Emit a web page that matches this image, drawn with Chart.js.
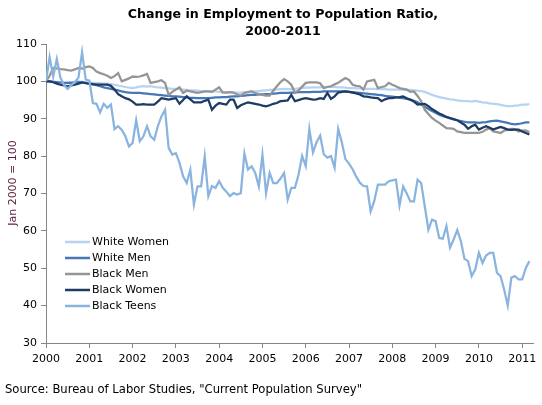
<!DOCTYPE html>
<html>
<head>
<meta charset="utf-8">
<title>Change in Employment to Population Ratio, 2000-2011</title>
<script src="https://cdn.jsdelivr.net/npm/chart.js@4"></script>
<style>
  html, body { margin: 0; padding: 0; background: #fff; }
  #wrap { width: 542px; height: 405px; }
</style>
</head>
<body>
<div id="wrap"><canvas id="grafico" width="542" height="405"></canvas></div>
<script>
// Séries mensais, Jan 2000 = 100 (de jan/2000 até mar/2011)
const startYear = 2000;

const whiteWomen = [
  100, 100, 99.9, 99.8, 99.7, 99.6, 99.7, 99.8, 99.9, 100, 99.9, 99.8,
  99.7, 99.6, 99.5, 99.5, 99.4, 99.4, 99.3, 99.1, 98.9, 98.7, 98.5, 98.3,
  98.2, 98.4, 98.6, 98.7, 98.6, 98.7, 98.5, 98.4, 98.3, 98.2, 98.1, 98,
  98, 97.9, 97.8, 97.7, 97.6, 97.6, 97.5, 97.4, 97.3, 97.3, 97.4, 97.3,
  97.2, 97.2, 97.1, 97.1, 97, 97, 97, 97.1, 97.2, 97.3, 97.3, 97.4,
  97.5, 97.6, 97.7, 97.8, 97.8, 97.9, 98, 97.9, 97.9, 98, 98.1, 98.2,
  98.3, 98.3, 98.4, 98.4, 98.4, 98.5, 98.5, 98.6, 98.5, 98.4, 98.4, 98.3,
  98.2, 98.2, 98.1, 98.1, 98, 98, 98, 98, 97.9, 97.9, 97.9, 97.8,
  97.8, 97.8, 97.8, 97.8, 97.7, 97.7, 97.6, 97.5, 97.4, 97.2, 96.8, 96.4,
  96.1, 95.8, 95.6, 95.4, 95.2, 95.1, 94.9, 94.8, 94.7, 94.7, 94.6, 94.8,
  94.6, 94.4, 94.3, 94.1, 94, 93.9, 93.7, 93.5, 93.4, 93.4, 93.5, 93.6, 93.8, 93.8, 93.9
];

const whiteMen = [
  100, 100, 99.9, 99.8, 99.7, 99.6, 99.6, 99.6, 99.7, 99.8, 99.7, 99.6,
  99.5, 99.3, 99, 98.7, 98.4, 98.2, 98, 97.8, 97.6, 97.3, 97.1, 97,
  96.9, 96.9, 96.9, 96.8, 96.7, 96.6, 96.5, 96.4, 96.3, 96.2, 96.1, 96,
  96, 95.9, 95.8, 95.7, 95.6, 95.6, 95.5, 95.5, 95.5, 95.5, 95.6, 95.7,
  95.7, 95.8, 95.8, 95.9, 96, 96, 96.1, 96.2, 96.3, 96.4, 96.4, 96.5,
  96.5, 96.6, 96.6, 96.7, 96.8, 96.9, 96.9, 96.9, 97, 97, 97.1, 97.1,
  97.1, 97.1, 97.2, 97.2, 97.2, 97.3, 97.3, 97.3, 97.3, 97.3, 97.3, 97.3,
  97.2, 97.1, 97, 96.9, 96.8, 96.7, 96.6, 96.5, 96.4, 96.3, 96.1, 96,
  95.9, 95.8, 95.6, 95.5, 95.3, 95.1, 94.8, 94.4, 93.8, 93.2, 92.6, 92.1,
  91.6, 91.1, 90.7, 90.4, 90.1, 89.8, 89.6, 89.4, 89.2, 89, 89, 89,
  88.9, 89, 89.1, 89.3, 89.4, 89.5, 89.3, 89.1, 88.9, 88.6, 88.5, 88.6, 88.8, 89, 89
];

const blackMen = [
  100, 101.5, 103.6, 103.5, 103.3, 103.2, 103, 102.9, 103.2, 103.6, 103.4, 103.8,
  104, 103.6, 102.6, 102.2, 101.9, 101.5, 100.9, 101.4, 102.2, 100, 100.4, 100.8,
  101.3, 101.2, 101.3, 101.6, 102, 99.6, 99.8, 100, 100.3, 99.6, 96.4, 97.2,
  97.8, 98.4, 96.9, 97.5, 97.3, 97.1, 96.9, 97.1, 97.3, 97.3, 97.2, 97.8,
  98.4, 97, 97, 97.1, 97, 96.5, 96.2, 96.9, 97.1, 97.3, 96.9, 96.6,
  96.4, 96.2, 96.2, 97.5, 98.7, 99.8, 100.6, 100, 99.1, 97, 97.6, 98.6,
  99.6, 99.7, 99.7, 99.7, 99.5, 98.2, 98.5, 98.7, 99.2, 99.6, 100.3, 100.9,
  100.4, 99.1, 98.8, 98.7, 97.8, 100, 100.2, 100.4, 98.2, 98.5, 98.7, 99.6,
  99.1, 98.7, 98.2, 98, 97.8, 97.2, 97.3, 96.1, 94.7, 92.4, 91.3, 90.2,
  89.5, 88.9, 88.2, 87.5, 87.4, 87.3, 86.6, 86.4, 86.2, 86.2, 86.2, 86.2,
  86.2, 86.5, 87.1, 87.5, 86.6, 86.4, 86.2, 86.8, 87.1, 87.3, 87.2, 86.6, 86.8, 86.9, 86.4
];

const blackWomen = [
  100, 100, 99.8, 99.4, 99.1, 98.9, 98.7, 98.9, 99.1, 99.4, 99.7, 99.5,
  99.3, 99.2, 99.1, 99.1, 99.1, 99.1, 98.8, 97.8, 96.6, 96, 95.5, 95.2,
  94.6, 93.8, 93.8, 93.9, 93.8, 93.8, 93.8, 94.6, 95.5, 95.3, 95.1, 95.3,
  95.5, 94, 95, 96, 95.2, 94.4, 94.4, 94.4, 94.8, 95.1, 92.4, 93.5,
  94.2, 94, 93.8, 95.1, 95.1, 92.9, 93.6, 94, 94.4, 94.2, 94, 93.8,
  93.5, 93.3, 93.6, 94, 94.2, 94.7, 94.8, 94.9, 96.4, 94.7, 95, 95.3,
  95.5, 95.3, 95.1, 95.2, 95.5, 95.3, 96.9, 95.3, 96, 97, 97.2, 97.3,
  97.2, 97, 96.8, 96.5, 96, 95.9, 95.7, 95.6, 95.5, 94.7, 95.2, 95.5,
  95.5, 95.7, 95.8, 96, 95.5, 95.1, 94.6, 93.8, 93.9, 94, 93.4, 92.6,
  92, 91.4, 91, 90.5, 90.2, 89.9, 89.6, 89, 88.4, 87.3, 88, 88.4,
  87.1, 87.6, 88, 87.6, 87.1, 87.5, 87.8, 87.5, 87.1, 87, 87.1, 87.1, 86.6, 86.2, 85.8
];

const blackTeens = [
  100, 106.5, 101.3, 106, 101, 99, 98, 99, 99.8, 101, 107.8, 100.5,
  100.2, 94.2, 94, 91.7, 94, 92.9, 93.8, 87.2, 88, 87, 85.3, 82.6,
  83.5, 89.6, 84, 85.3, 88, 85.3, 84.4, 88, 90.6, 92.4, 82.2, 80.4,
  80.8, 78.2, 74.6, 72.8, 76.4, 67, 71.9, 71.9, 79.9, 69.3, 72, 71.5,
  73.3, 71.5, 70.5, 69.3, 70.1, 69.7, 70.1, 80.7, 76.4, 77.3, 75.5, 71.9,
  80.4, 70.1, 75.5, 72.8, 72.8, 74, 75.5, 68.4, 71.5, 71.5, 75, 80,
  77.3, 87.3, 81, 83.7, 85.5, 80.5, 79.6, 80, 76.9, 87.3, 83.7, 79.2,
  78, 76.5, 74.5, 72.9, 72, 71.9, 65.2, 68, 72.4, 72.4, 72.4, 73.3,
  73.5, 73.7, 66.8, 71.9, 70, 67.9, 67.9, 73.7, 72.8, 66.6, 60.3, 63,
  62.6, 58.1, 57.9, 61.3, 55.5, 57.7, 60.2, 57.3, 52.5, 51.9, 47.9, 49.7,
  54.1, 51.4, 53.4, 54.1, 54.1, 48.8, 47.9, 44.3, 40, 47.5, 47.9, 47, 47, 50.1, 51.9
];

const seriesNames = ['White Women', 'White Men', 'Black Men', 'Black Women', 'Black Teens'];
const yearTicks = [2000, 2001, 2002, 2003, 2004, 2005, 2006, 2007, 2008, 2009, 2010, 2011];
const valueTicks = [30, 40, 50, 60, 70, 80, 90, 100, 110];

const titulo = ['Change in Employment to Population Ratio,', '2000-2011'];
const tituloY = 'Jan 2000 = 100';
const fonteDados = 'Source: Bureau of Labor Studies, "Current Population Survey"';

const fonte = 'Verdana, "DejaVu Sans", sans-serif';
const corEixo = '#868686';

// Converte o índice do mês em posição no eixo (anos)
const paraPontos = (valores) => valores.map((v, i) => ({ x: startYear + i / 12, y: v }));

const estilos = [
  { cor: '#b7d3f1', ordem: 5 },
  { cor: '#4677b8', ordem: 4 },
  { cor: '#959595', ordem: 3 },
  { cor: '#1d3b63', ordem: 2 },
  { cor: '#8ab4e0', ordem: 1 }
];
const series = [whiteWomen, whiteMen, blackMen, blackWomen, blackTeens];

const datasets = series.map((valores, k) => ({
  label: seriesNames[k],
  data: paraPontos(valores),
  borderColor: estilos[k].cor,
  backgroundColor: estilos[k].cor,
  borderWidth: 2.25,
  pointRadius: 0,
  tension: 0,
  order: estilos[k].ordem
}));

// Título, rótulo do eixo Y, legenda interna e fonte
const textosExtras = {
  id: 'textosExtras',
  afterDraw(chart) {
    const ctx = chart.ctx;
    ctx.save();
    ctx.fillStyle = '#000';
    ctx.textAlign = 'center';
    ctx.textBaseline = 'middle';
    ctx.font = 'bold 12.6px ' + fonte;
    ctx.fillText(titulo[0], 283, 15);
    ctx.fillText(titulo[1], 283, 32);

    ctx.save();
    ctx.translate(13, 183);
    ctx.rotate(-Math.PI / 2);
    ctx.font = '11px ' + fonte;
    ctx.fillStyle = '#5a1e3c';
    ctx.fillText(tituloY, 0, 0);
    ctx.restore();

    ctx.font = '11px ' + fonte;
    ctx.textAlign = 'left';
    chart.data.datasets.forEach((ds, k) => {
      const y = 242 + k * 16;
      ctx.strokeStyle = ds.borderColor;
      ctx.lineWidth = 2.5;
      ctx.beginPath();
      ctx.moveTo(65, y);
      ctx.lineTo(90, y);
      ctx.stroke();
      ctx.fillStyle = '#000';
      ctx.fillText(ds.label, 92, y);
    });

    ctx.font = '11.6px ' + fonte;
    ctx.fillText(fonteDados, 5, 390);
    ctx.restore();
  }
};

Chart.defaults.font.family = fonte;
Chart.defaults.font.size = 11;
Chart.defaults.color = '#000';

new Chart(document.getElementById('grafico'), {
  type: 'line',
  data: { datasets },
  options: {
    responsive: false,
    animation: false,
    layout: { padding: { top: 44, right: 9, left: 0, bottom: 0 } },
    plugins: { legend: { display: false }, tooltip: { enabled: false }, title: { display: false } },
    scales: {
      x: {
        type: 'linear',
        min: 2000,
        max: 2011.25,
        afterFit: (s) => { s.height = 62; },
        afterBuildTicks: (s) => { s.ticks = yearTicks.map(v => ({ value: v })); },
        ticks: { padding: 5, callback: (v) => String(v), maxRotation: 0, autoSkip: false },
        grid: { drawOnChartArea: false, tickLength: 5, color: corEixo },
        border: { color: corEixo, width: 1 }
      },
      y: {
        min: 30,
        max: 110,
        afterFit: (s) => { s.width = 46; },
        afterBuildTicks: (s) => { s.ticks = valueTicks.map(v => ({ value: v })); },
        ticks: { padding: 4, callback: (v) => String(v) },
        grid: { drawOnChartArea: false, tickLength: 5, color: corEixo },
        border: { color: corEixo, width: 1 }
      }
    }
  },
  plugins: [textosExtras]
});
</script>
</body>
</html>
